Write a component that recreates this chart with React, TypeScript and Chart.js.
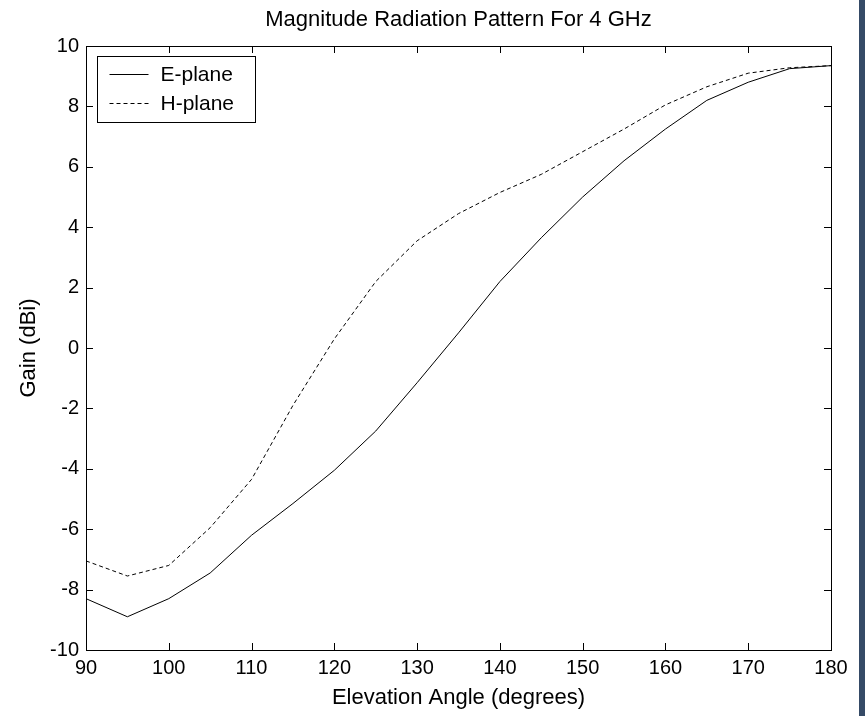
import React, { useEffect, useRef } from "react";
import { Chart, registerables } from "chart.js";

Chart.register(...registerables);

const angles = [90, 95, 100, 105, 110, 115, 120, 125, 130, 135, 140, 145, 150, 155, 160, 165, 170, 175, 180];
const ePlane = [-8.3, -8.9, -8.3, -7.45, -6.2, -5.15, -4.05, -2.75, -1.15, 0.5, 2.2, 3.65, 5.0, 6.2, 7.25, 8.2, 8.8, 9.25, 9.35];
const hPlane = [-7.05, -7.55, -7.2, -5.95, -4.35, -1.9, 0.3, 2.2, 3.55, 4.45, 5.15, 5.75, 6.5, 7.25, 8.05, 8.65, 9.1, 9.28, 9.35];
const xTicks = [90, 100, 110, 120, 130, 140, 150, 160, 170, 180];
const yTicks = [-10, -8, -6, -4, -2, 0, 2, 4, 6, 8, 10];
const titleText = "Magnitude Radiation Pattern For 4 GHz";

const FONT = "'Liberation Sans', Arial, sans-serif";

const framePlugin = {
  id: "frame",
  afterDatasetsDraw(chart: any) {
    const { ctx, chartArea: a, scales } = chart;
    ctx.save();
    ctx.strokeStyle = "#000";
    ctx.lineWidth = 1;
    ctx.beginPath();
    const L = 7;
    xTicks.forEach((v) => {
      const x = Math.round(scales.x.getPixelForValue(v)) + 0.5;
      ctx.moveTo(x, a.bottom);
      ctx.lineTo(x, a.bottom - L);
      ctx.moveTo(x, a.top);
      ctx.lineTo(x, a.top + L);
    });
    yTicks.forEach((v) => {
      const y = Math.round(scales.y.getPixelForValue(v)) + 0.5;
      ctx.moveTo(a.left, y);
      ctx.lineTo(a.left + L, y);
      ctx.moveTo(a.right, y);
      ctx.lineTo(a.right - L, y);
    });
    ctx.stroke();
    ctx.strokeRect(Math.round(a.left) + 0.5, Math.round(a.top) + 0.5, Math.round(a.right - a.left), Math.round(a.bottom - a.top));

    // title centred over the plot area
    ctx.fillStyle = "#000";
    ctx.font = "22px " + FONT;
    ctx.textAlign = "center";
    ctx.textBaseline = "middle";
    ctx.fillText(titleText, (a.left + a.right) / 2, 20);

    // legend box
    ctx.textAlign = "left";
    const bx = Math.round(a.left) + 11 + 0.5;
    const by = Math.round(a.top) + 10 + 0.5;
    const bw = 158;
    const bh = 66;
    ctx.fillStyle = "#fff";
    ctx.fillRect(bx, by, bw, bh);
    ctx.strokeRect(bx, by, bw, bh);
    ctx.font = "21px " + FONT;
    ctx.fillStyle = "#000";
    chart.data.datasets.forEach((ds: any, i: number) => {
      const y = by + 18 + i * 29;
      ctx.save();
      ctx.setLineDash(ds.borderDash || []);
      ctx.beginPath();
      ctx.moveTo(bx + 12, y);
      ctx.lineTo(bx + 51, y);
      ctx.stroke();
      ctx.restore();
      ctx.fillText(ds.label, bx + 63, y + 1);
    });
    ctx.restore();
  },
};

export default function App() {
  const ref = useRef<HTMLCanvasElement>(null);
  useEffect(() => {
    document.body.style.margin = "0";
    const chart = new Chart(ref.current!, {
      type: "line",
      data: {
        labels: angles,
        datasets: [
          {
            label: "E-plane",
            data: angles.map((a, i) => ({ x: a, y: ePlane[i] })),
            borderColor: "#000",
            borderWidth: 1,
            pointRadius: 0,
            tension: 0,
          },
          {
            label: "H-plane",
            data: angles.map((a, i) => ({ x: a, y: hPlane[i] })),
            borderColor: "#000",
            borderWidth: 1,
            borderDash: [4, 3],
            pointRadius: 0,
            tension: 0,
          },
        ],
      },
      options: {
        animation: false,
        responsive: false,
        layout: { padding: { left: 0, right: 34, top: 46, bottom: 0 } },
        plugins: {
          legend: { display: false },
          tooltip: { enabled: false },
          title: { display: false },
        },
        scales: {
          x: {
            type: "linear",
            min: 90,
            max: 180,
            grid: { display: false, drawTicks: false, tickLength: 0 },
            border: { display: false },
            ticks: { stepSize: 10, color: "#000", font: { family: FONT, size: 20 }, padding: 6, maxRotation: 0 },
            title: {
              display: true,
              text: "Elevation Angle (degrees)",
              color: "#000",
              font: { family: FONT, size: 22 },
              padding: { top: 0, bottom: 5 },
            },
            afterFit: (s: any) => {
              s.height = 66;
            },
          },
          y: {
            min: -10,
            max: 10,
            grid: { display: false, drawTicks: false, tickLength: 0 },
            border: { display: false },
            ticks: { stepSize: 2, color: "#000", font: { family: FONT, size: 20 }, padding: 7 },
            title: {
              display: true,
              text: "Gain (dBi)",
              color: "#000",
              font: { family: FONT, size: 22 },
              padding: { top: 16, bottom: 0 },
            },
            afterFit: (s: any) => {
              s.width = 86;
            },
          },
        },
      },
      plugins: [framePlugin],
    });
    return () => chart.destroy();
  }, []);
  return (
    <div style={{ position: "relative", width: 865, height: 716, background: "#fff" }}>
      <canvas ref={ref} width={865} height={716} style={{ display: "block" }} />
      <div style={{ position: "absolute", left: 859, top: 0, width: 6, height: 716, background: "#354a66" }} />
    </div>
  );
}
